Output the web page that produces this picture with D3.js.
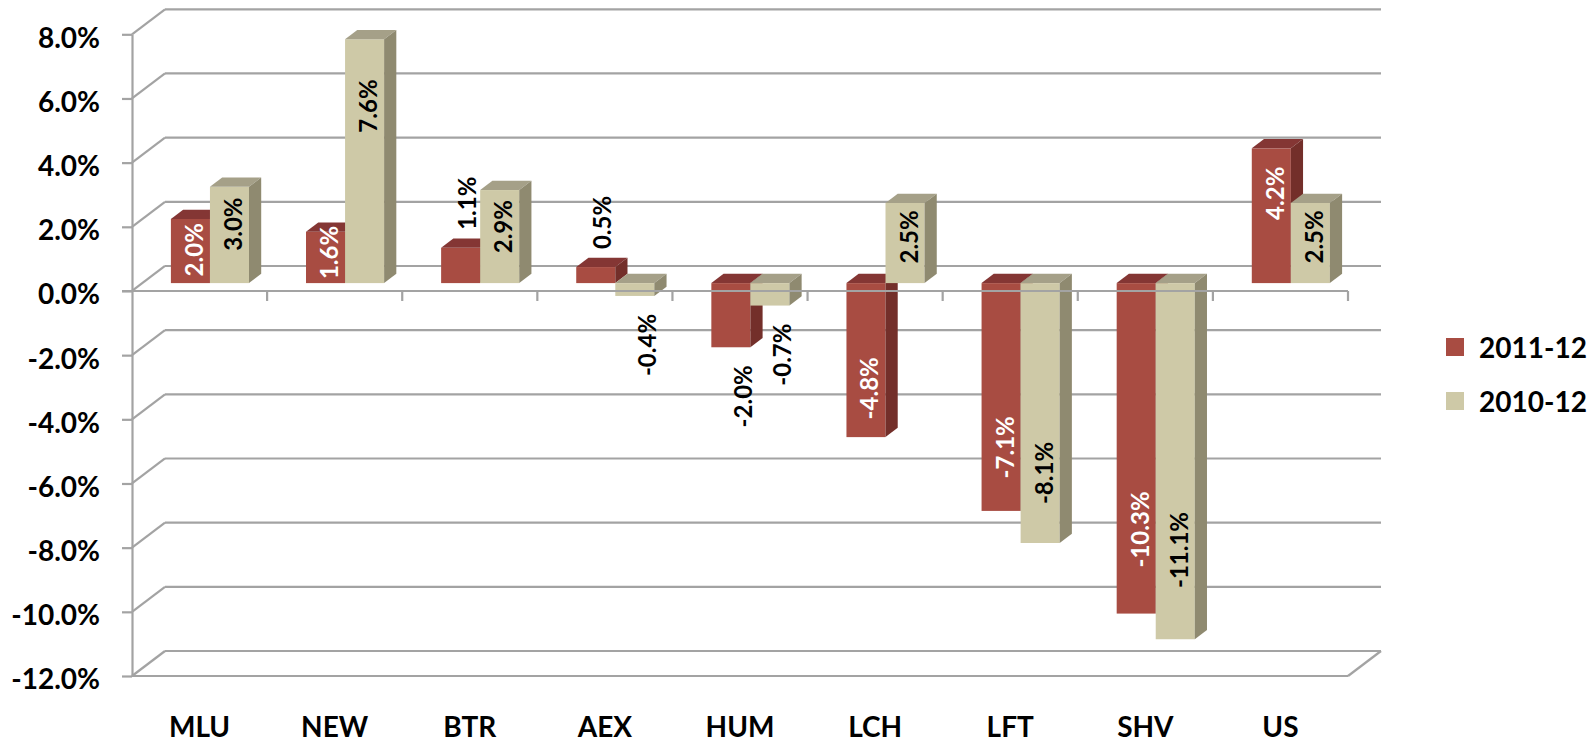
<!DOCTYPE html>
<html>
<head>
<meta charset="UTF-8">
<title>Change by area, 2011-12 and 2010-12</title>
<script src="https://cdn.jsdelivr.net/npm/d3@7/dist/d3.min.js"></script>
<style>
    body { margin: 0; background: #fff; }
    svg text { font-family: Lato, "Open Sans", sans-serif; font-weight: bold; }
</style>
</head>
<body>
<div id="chart"></div>
<script>
    // data
    const categories = ["MLU", "NEW", "BTR", "AEX", "HUM", "LCH", "LFT", "SHV", "US"];
    const seriesNames = ["2011-12", "2010-12"];
    const values2011 = [2.0, 1.6, 1.1, 0.5, -2.0, -4.8, -7.1, -10.3, 4.2];
    const values2010 = [3.0, 7.6, 2.9, -0.4, -0.7, 2.5, -8.1, -11.1, 2.5];
    const yTicks = [-12, -10, -8, -6, -4, -2, 0, 2, 4, 6, 8];

    const width = 1592, height = 743;
    const gridColor = "#a3a3a3";
    // front / top / side colour for each series
    const faces = {
        "2011-12": {front: "#a84c42", top: "#843634", side: "#732f2a", label: "#fff"},
        "2010-12": {front: "#cec9a7", top: "#a5a088", side: "#8f8a70", label: "#000"}
    };

    // oblique 3d: depth goes up and to the right
    const depthX = 33, depthY = 25;
    const barFront = 0.315, barDepth = 0.37;   // bars sit in the middle of the depth
    const P = (px, py, f) => [px + f * depthX, py - f * depthY];

    const x = d3.scaleBand().domain(categories).range([132, 1348]);
    const xs = d3.scaleBand().domain(seriesNames).range([0, x.bandwidth()]).paddingOuter(0.73);
    const y = d3.scaleLinear().domain([-12, 8]).range([676, 34.3]);
    const fmt = v => v.toFixed(1) + "%";   // plain hyphen for the minus, as in the original

    const svg = d3.select("#chart").append("svg")
        .attr("width", width).attr("height", height)
        .style("background", "#fff");

    // back wall gridlines + left wall diagonals
    const grid = svg.append("g").attr("stroke", gridColor).attr("stroke-width", 2.2).attr("fill", "none");
    yTicks.forEach(t => {
        const a = P(x.range()[0], y(t), 1), b = P(x.range()[1], y(t), 1);
        grid.append("line").attr("x1", a[0]).attr("y1", a[1]).attr("x2", b[0]).attr("y2", b[1]);
        grid.append("line").attr("x1", x.range()[0]).attr("y1", y(t)).attr("x2", a[0]).attr("y2", a[1]);
    });
    // floor front edge and right edge
    const fr = P(x.range()[1], y(-12), 1);
    grid.append("line").attr("x1", x.range()[0]).attr("y1", y(-12)).attr("x2", x.range()[1]).attr("y2", y(-12));
    grid.append("line").attr("x1", x.range()[1]).attr("y1", y(-12)).attr("x2", fr[0]).attr("y2", fr[1]);

    // value axis
    const yAxis = svg.append("g")
        .attr("transform", "translate(" + x.range()[0] + ",0)")
        .call(d3.axisLeft(y).tickValues(yTicks).tickFormat(d => fmt(d)).tickSize(10).tickSizeOuter(0).tickPadding(22));
    yAxis.selectAll("path, line").attr("stroke", gridColor).attr("stroke-width", 2.2);
    yAxis.selectAll("text").attr("font-size", 28).attr("fill", "#000").attr("dy", "0.46em")
        .style("font-family", "Lato, 'Open Sans', sans-serif").style("font-weight", "bold");

    // bars
    const rows = categories.map((c, i) => ({cat: c, vals: [values2011[i], values2010[i]]}));
    const bars = svg.append("g");
    const labelQueue = [];
    rows.forEach(r => {
        seriesNames.forEach((s, k) => {
            const v = r.vals[k];
            const col = faces[s];
            const xl = x(r.cat) + xs(s), xr = xl + xs.bandwidth();
            const yTop = y(Math.max(v, 0)), yBot = y(Math.min(v, 0));
            const f0 = barFront, f1 = barFront + barDepth;
            const poly = pts => pts.map(p => p.join(",")).join(" ");

            const fa = P(xl, yTop, f0), fb = P(xr, yBot, f0);
            bars.append("rect").attr("x", fa[0]).attr("y", fa[1])
                .attr("width", fb[0] - fa[0]).attr("height", Math.max(fb[1] - fa[1], 0.5))
                .attr("fill", col.front);
            bars.append("polygon").attr("fill", col.top)
                .attr("points", poly([P(xl, yTop, f0), P(xr, yTop, f0), P(xr, yTop, f1), P(xl, yTop, f1)]));
            bars.append("polygon").attr("fill", col.side)
                .attr("points", poly([P(xr, yTop, f0), P(xr, yTop, f1), P(xr, yBot, f1), P(xr, yBot, f0)]));

            // label: inside the bar when long enough, else beyond its end
            const base = P(0, y(0), f0)[1];
            const len = Math.abs(y(v) - y(0));
            const inside = v >= 1.5 || v <= -2.5;
            labelQueue.push({v, s, inside, cx: P((xl + xr) / 2, 0, f0)[0], base, len});
        });
    });

    // category axis at zero, drawn over the bars
    const xAxis = svg.append("g").attr("stroke", gridColor).attr("stroke-width", 2.2);
    xAxis.append("line").attr("x1", x.range()[0] - 10).attr("y1", y(0)).attr("x2", x.range()[1]).attr("y2", y(0));
    categories.concat([null]).forEach((c, i) => {
        const bx = c ? x(c) : x.range()[1];
        if (i === 0) return;
        xAxis.append("line").attr("x1", bx).attr("y1", y(0)).attr("x2", bx).attr("y2", y(0) + 10);
    });

    svg.append("g").selectAll("text").data(categories).join("text")
        .attr("x", d => x(d) + x.bandwidth() / 2).attr("y", 737)
        .attr("text-anchor", "middle").attr("font-size", 28).attr("fill", "#000")
        .text(d => d);

    // data labels, rotated to read upwards
    const labels = svg.append("g");
    labelQueue.forEach(d => {
        const t = labels.append("text").attr("font-size", 24).attr("text-anchor", "middle")
            .attr("dominant-baseline", "central").text(fmt(d.v));
        const tl = t.node().getComputedTextLength();
        let cy, cx;
        if (d.inside) {
            const dist = Math.max(0.8 * d.len - 18, tl / 2 + 4);
            cy = d.v > 0 ? d.base - dist : d.base + dist;
            cx = d.cx + 3;
            t.attr("fill", faces[d.s].label);
        } else {
            cy = d.v > 0 ? d.base - d.len - 18 - tl / 2 : d.base + d.len + 18 + tl / 2;
            cx = d.cx + (d.v > 0 ? 6 : 12);
            t.attr("fill", "#000");
        }
        t.attr("transform", "translate(" + cx + "," + cy + ") rotate(-90)");
    });

    // legend
    const legend = svg.append("g").attr("transform", "translate(1446,338)");
    seriesNames.forEach((s, i) => {
        legend.append("rect").attr("x", 0).attr("y", i * 54).attr("width", 18).attr("height", 18)
            .attr("fill", faces[s].front);
        legend.append("text").attr("x", 33).attr("y", i * 54 + 20).attr("font-size", 28).attr("fill", "#000").text(s);
    });
</script>
</body>
</html>
